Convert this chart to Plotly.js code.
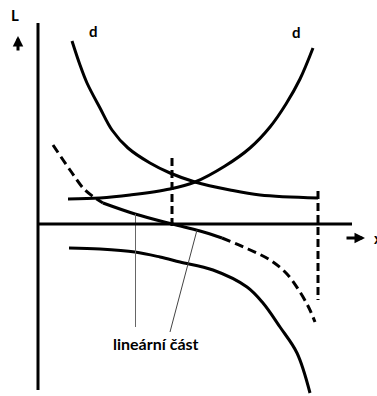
<!DOCTYPE html>
<html>
<head>
<meta charset="utf-8">
<script src="https://cdn.plot.ly/plotly-3.0.1.min.js"></script>
<style>
  html, body { margin: 0; padding: 0; background: #fff; }
  #chart { width: 377px; height: 396px; }
</style>
</head>
<body>
<div id="chart"></div>
<script>
// Schematic L(x): origin where the two axes meet, units in screen points.

// falling "d" branch
const dFallX = [34, 42, 49, 62, 74, 90, 112, 132, 157, 192, 222, 280];
const dFallL = [183, 159, 141, 116, 94, 76, 61, 51, 42, 34, 29, 26];

// rising "d" branch
const dRiseX = [30, 62, 92, 132, 157, 187, 212, 232, 248, 262, 275];
const dRiseL = [25, 26, 29, 35, 42, 58, 76, 97, 120, 145, 176];

// middle curve: dashed ends, solid linear part in between
const midX = [15, 32, 47, 65, 97, 134, 162, 184, 210, 232, 249, 262, 271, 277];
const midL = [79, 54, 34, 21, 10, 0, -7, -14, -25, -36, -50, -68, -84, -98];
const linStart = 3, linEnd = 7;

// lower curve
const lowX = [31, 62, 97, 122, 142, 175, 209, 225, 242, 259, 272];
const lowL = [-24, -25, -28, -33, -38, -46, -63, -79, -103, -129, -169];

// dashed verticals
const markX = [134, 280];
const markTop = [66, 33];
const markBottom = [-6, -76];

// labels
const labelD = 'd';
const labelLin = 'lineární část';
const labelL = 'L';
const labelX = 'x';

const black = '#000';
const curve = (x, y, dash) => ({
  x, y, mode: 'lines', type: 'scatter', hoverinfo: 'skip',
  line: { color: black, width: 3, shape: 'spline', smoothing: 1, dash: dash || 'solid' }
});

const traces = [
  curve(dFallX, dFallL),
  curve(dRiseX, dRiseL),
  curve(midX.slice(0, linStart + 1), midL.slice(0, linStart + 1), '9px,5px'),
  curve(midX.slice(linStart, linEnd + 1), midL.slice(linStart, linEnd + 1)),
  curve(midX.slice(linEnd), midL.slice(linEnd), '9px,5px'),
  curve(lowX, lowL)
];

markX.forEach((mx, i) => {
  traces.push({
    x: [mx, mx], y: [markTop[i], markBottom[i]], mode: 'lines', type: 'scatter',
    hoverinfo: 'skip', line: { color: black, width: 3, dash: '8px,4px' }
  });
});

// leader lines from the label to the linear part
traces.push({
  x: [97.5, 97.5], y: [10, -103], mode: 'lines', type: 'scatter', hoverinfo: 'skip',
  line: { color: '#666', width: 1 }
});
traces.push({
  x: [159, 132], y: [-6, -108], mode: 'lines', type: 'scatter', hoverinfo: 'skip',
  line: { color: '#444', width: 1 }
});

const font = (size) => ({ family: 'Lato, "Open Sans", sans-serif', size, color: black, weight: 'bold' });

const layout = {
  width: 377, height: 396,
  margin: { l: 0, r: 0, t: 0, b: 0 },
  paper_bgcolor: '#fff', plot_bgcolor: '#fff',
  showlegend: false,
  xaxis: { range: [-38, 339], visible: false, fixedrange: true },
  yaxis: { range: [-172, 224], visible: false, fixedrange: true },
  shapes: [
    { type: 'line', xref: 'x', yref: 'y', x0: 0, x1: 0, y0: 201, y1: -166, line: { color: black, width: 3 } },
    { type: 'line', xref: 'x', yref: 'y', x0: 0, x1: 314, y0: 0, y1: 0, line: { color: black, width: 3 } }
  ],
  annotations: [
    { x: -23, y: 209, text: '<b>' + labelL + '</b>', showarrow: false, font: font(15) },
    { x: 55, y: 193, text: '<b>' + labelD + '</b>', showarrow: false, font: font(15) },
    { x: 258, y: 192, text: '<b>' + labelD + '</b>', showarrow: false, font: font(15) },
    { x: 117.5, y: -119, text: '<b>' + labelLin + '</b>', showarrow: false, font: font(16) },
    { x: 334, y: -14, text: '<b>' + labelX + '</b>', showarrow: false, xanchor: 'left', font: font(15) },
    { x: -20, y: 188, ax: -20, ay: 172, axref: 'x', ayref: 'y', text: '', showarrow: true,
      arrowhead: 2, arrowsize: 0.7, arrowwidth: 3, arrowcolor: black },
    { x: 327, y: -14, ax: 307, ay: -14, axref: 'x', ayref: 'y', text: '', showarrow: true,
      arrowhead: 2, arrowsize: 0.7, arrowwidth: 3, arrowcolor: black }
  ]
};

Plotly.newPlot('chart', traces, layout, { staticPlot: true, displayModeBar: false });
</script>
</body>
</html>
